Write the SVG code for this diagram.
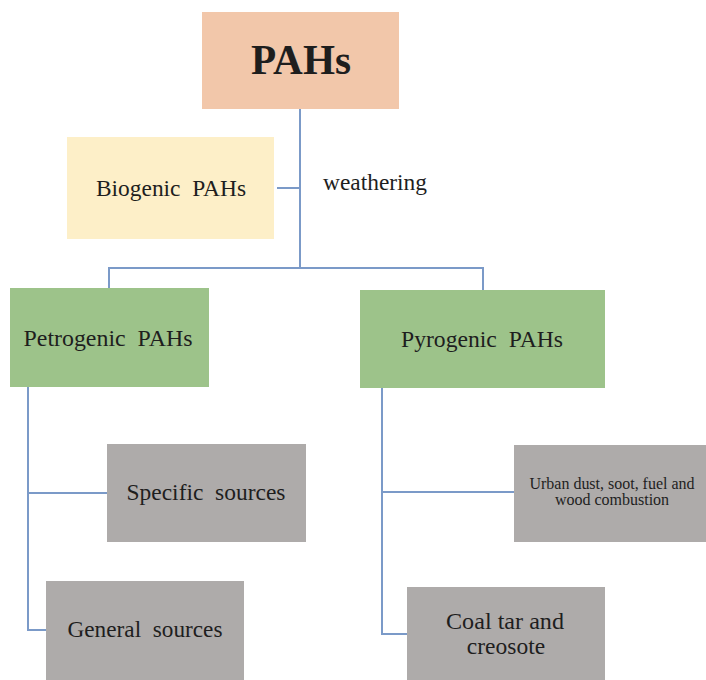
<svg xmlns="http://www.w3.org/2000/svg" width="706" height="680" viewBox="0 0 706 680">
<style>
.t{font-family:"Liberation Serif","Times New Roman",serif;fill:#1e1e1e;text-anchor:middle;font-size:23.5px}
.c{fill:none;stroke:#7b9ac8;stroke-width:2}
.gray{fill:#aeabaa}
.green{fill:#9dc38a}
</style>
<rect width="706" height="680" fill="#ffffff"/>
<g id="connectors">
<path class="c" d="M300,109 V268 M277,188 H300 M109,288 V268 H483 V290"/>
<path class="c" d="M28,387 V630 H46 M28,493 H107"/>
<path class="c" d="M382,388 V634 H407 M382,492 H514"/>
</g>
<g id="pahs">
<rect x="202" y="12" width="197" height="97" fill="#f2c7aa"/>
<text class="t" x="301" y="74" style="font-size:42px" font-weight="bold" textLength="100" lengthAdjust="spacingAndGlyphs">PAHs</text>
</g>
<g id="biogenic">
<rect x="67" y="137" width="207" height="102" fill="#fdefc8"/>
<text class="t" x="171" y="196" xml:space="preserve" textLength="150" lengthAdjust="spacingAndGlyphs">Biogenic  PAHs</text>
</g>
<g id="weathering">
<text class="t" x="375" y="190" textLength="104" lengthAdjust="spacingAndGlyphs">weathering</text>
</g>
<g id="petrogenic">
<rect class="green" x="10" y="288" width="199" height="99"/>
<text class="t" x="108" y="346" xml:space="preserve" textLength="169" lengthAdjust="spacingAndGlyphs">Petrogenic  PAHs</text>
</g>
<g id="pyrogenic">
<rect class="green" x="360" y="290" width="245" height="98"/>
<text class="t" x="482" y="347" xml:space="preserve" textLength="162" lengthAdjust="spacingAndGlyphs">Pyrogenic  PAHs</text>
</g>
<g id="specific">
<rect class="gray" x="107" y="444" width="199" height="98"/>
<text class="t" x="206" y="500" xml:space="preserve" textLength="159" lengthAdjust="spacingAndGlyphs">Specific  sources</text>
</g>
<g id="general">
<rect class="gray" x="46" y="581" width="198" height="99"/>
<text class="t" x="145" y="637" xml:space="preserve" textLength="155" lengthAdjust="spacingAndGlyphs">General  sources</text>
</g>
<g id="urban">
<rect class="gray" x="514" y="445" width="192" height="97"/>
<text class="t" x="612" y="489" style="font-size:16px" textLength="165" lengthAdjust="spacingAndGlyphs">Urban dust, soot, fuel and</text>
<text class="t" x="612" y="505" style="font-size:16px">wood combustion</text>
</g>
<g id="coal">
<rect class="gray" x="407" y="587" width="198" height="93"/>
<text class="t" x="505" y="629" textLength="118" lengthAdjust="spacingAndGlyphs">Coal tar and</text>
<text class="t" x="506" y="654">creosote</text>
</g>
</svg>
